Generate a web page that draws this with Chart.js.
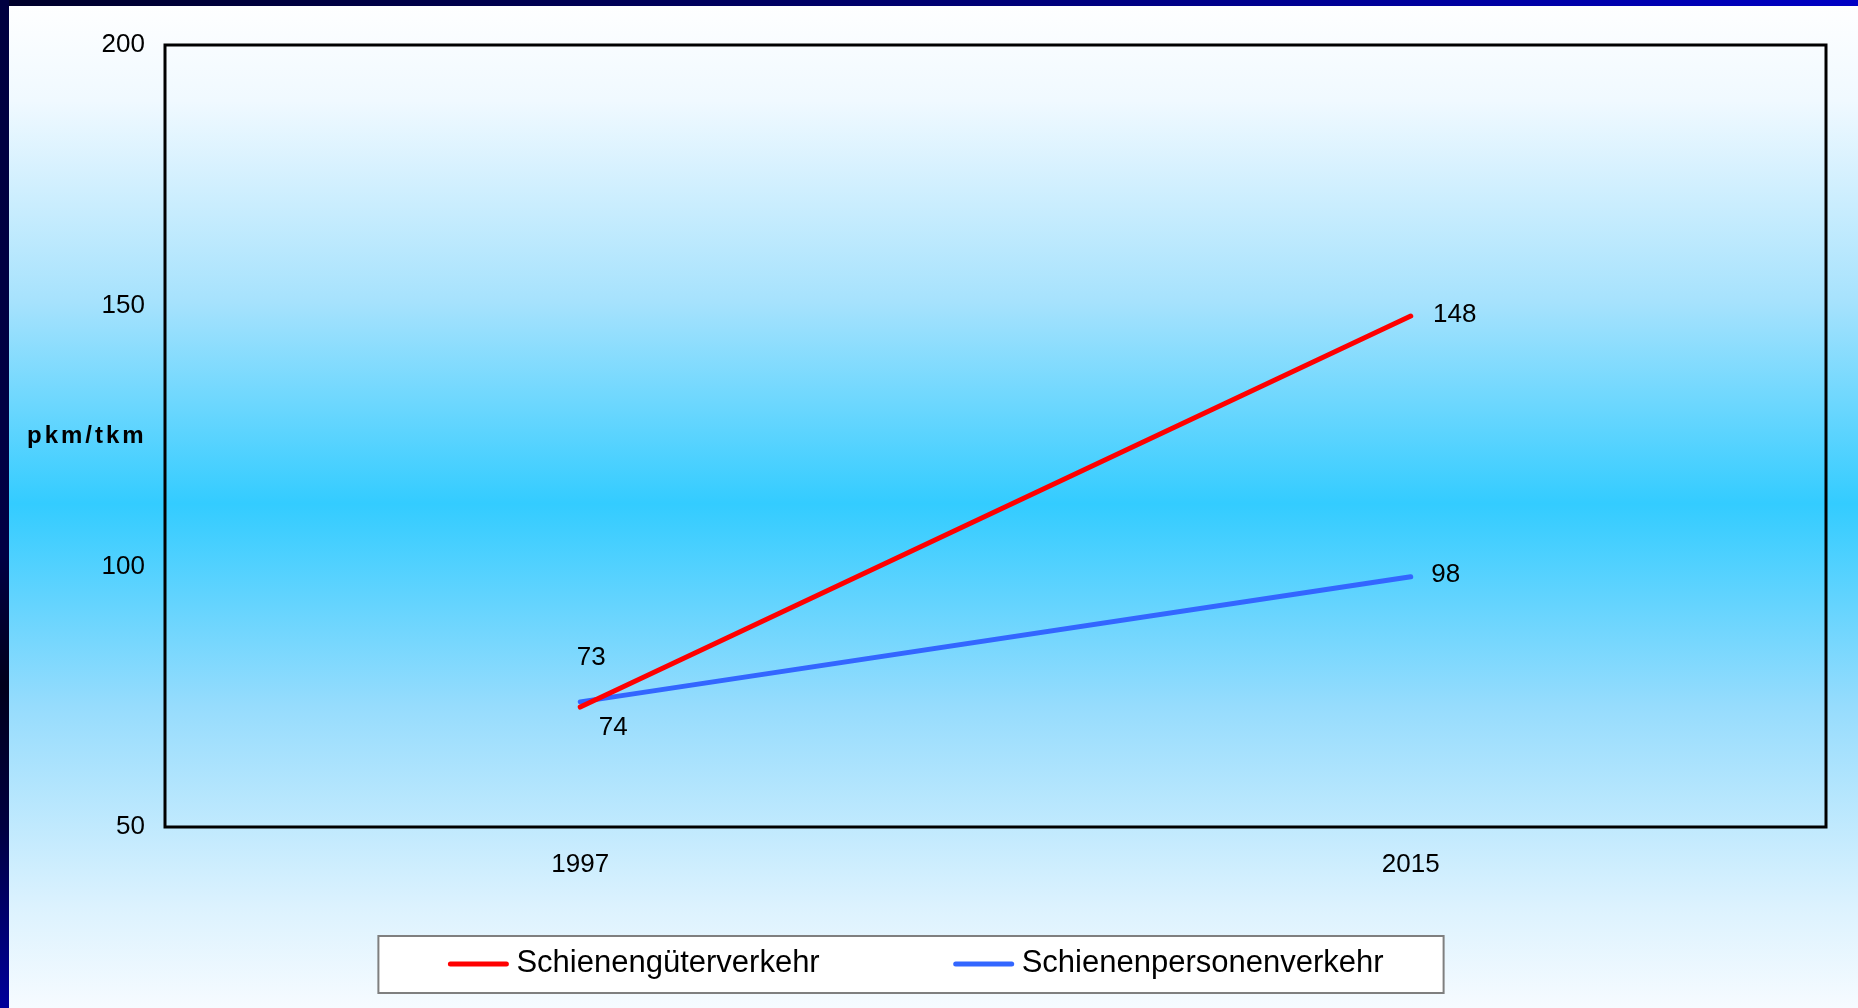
<!DOCTYPE html>
<html>
<head>
<meta charset="utf-8">
<title>Schienenverkehr 1997 - 2015</title>
<script src="https://cdn.jsdelivr.net/npm/chart.js@4/dist/chart.umd.min.js"></script>
<style>
    html, body { margin: 0; padding: 0; overflow: hidden; background: #fff; }
    #wrap { position: relative; width: 1858px; height: 1008px; }
    #chart { position: absolute; left: 0; top: 0; }
    .bar-top { position: absolute; left: 0; top: 0; width: 1858px; height: 6px;
        background: linear-gradient(to right, #00002a, #000060 40%, #0000c4); }
    .bar-left { position: absolute; left: 0; top: 0; width: 9px; height: 1008px;
        background: linear-gradient(to bottom, #000040, #000044 55%, #00001c 68%, #000040 82%, #00009a); }
</style>
</head>
<body>
<div id="wrap">
    <canvas id="chart" width="1858" height="1008"></canvas>
    <div class="bar-top"></div>
    <div class="bar-left"></div>
</div>
<script>
// ===================================
// DATA
// ===================================
const years = ['1997', '2015'];
const gueterValues = [73, 148];     // Schienengüterverkehr
const personenValues = [74, 98];    // Schienenpersonenverkehr
const yTicks = [50, 100, 150, 200];
const yTitle = 'pkm/tkm';

// label offsets (px) relative to each point, Excel-style placement
const gueterLabelOffsets = [[11, -49], [44, -1]];
const personenLabelOffsets = [[33, 26], [35, -2]];

const FONT = "'Liberation Sans', Arial, Helvetica, sans-serif";
Chart.defaults.font.family = FONT;
Chart.defaults.color = '#000';

// ===================================
// PLUGINS
// ===================================
const backgroundPlugin = {
    id: 'slideBackground',
    beforeDraw(chart) {
        const { ctx, width, height } = chart;
        const g = ctx.createLinearGradient(0, 0, 0, height);
        g.addColorStop(0, '#ffffff');
        g.addColorStop(0.1, '#f0f9ff');
        g.addColorStop(0.3, '#a6e2fd');
        g.addColorStop(0.5, '#33ccff');
        g.addColorStop(0.7, '#96dcfd');
        g.addColorStop(0.9, '#dcf2fe');
        g.addColorStop(1, '#f6fbff');
        ctx.save();
        ctx.fillStyle = g;
        ctx.fillRect(0, 0, width, height);
        ctx.restore();
    }
};

const framePlugin = {
    id: 'plotFrame',
    afterDatasetsDraw(chart) {
        const { ctx, chartArea: a, scales } = chart;
        ctx.save();
        ctx.strokeStyle = '#000';
        ctx.lineWidth = 3;
        ctx.strokeRect(a.left, a.top, a.right - a.left, a.bottom - a.top);

        // horizontal y title
        ctx.font = 'bold 24px ' + FONT;
        ctx.letterSpacing = '3px';
        ctx.textAlign = 'left';
        ctx.textBaseline = 'middle';
        ctx.fillStyle = '#000';
        ctx.fillText(yTitle, 27, scales.y.getPixelForValue(125));
        ctx.restore();
    }
};

const valueLabelPlugin = {
    id: 'valueLabels',
    afterDatasetsDraw(chart) {
        const { ctx } = chart;
        ctx.save();
        ctx.font = '26px ' + FONT;
        ctx.fillStyle = '#000';
        ctx.textAlign = 'center';
        ctx.textBaseline = 'middle';
        chart.data.datasets.forEach((ds, i) => {
            const meta = chart.getDatasetMeta(i);
            meta.data.forEach((pt, j) => {
                const off = ds.labelOffsets[j];
                ctx.fillText(String(ds.data[j]), pt.x + off[0], pt.y + off[1]);
            });
        });
        ctx.restore();
    }
};

const legendBoxPlugin = {
    id: 'legendBox',
    afterDraw(chart) {
        const { ctx } = chart;
        const centerX = 916, centerY = 964;
        const sample = 60, textGap = 8, itemGap = 134, padL = 70, padR = 60;
        ctx.save();
        ctx.font = '31px ' + FONT;
        const items = chart.data.datasets.map(ds => ({
            text: ds.label, color: ds.borderColor, w: ctx.measureText(ds.label).width
        }));
        let total = 0;
        items.forEach((it, i) => { total += sample + textGap + it.w + (i < items.length - 1 ? itemGap : 0); });
        let x = centerX - total / 2;

        ctx.fillStyle = '#fff';
        ctx.strokeStyle = '#7f7f7f';
        ctx.lineWidth = 2;
        ctx.fillRect(x - padL, 936, total + padL + padR, 57);
        ctx.strokeRect(x - padL, 936, total + padL + padR, 57);

        ctx.textAlign = 'left';
        ctx.textBaseline = 'middle';
        items.forEach(it => {
            ctx.strokeStyle = it.color;
            ctx.lineWidth = 5;
            ctx.lineCap = 'round';
            ctx.beginPath();
            ctx.moveTo(x + 2, centerY);
            ctx.lineTo(x + sample - 2, centerY);
            ctx.stroke();
            x += sample + textGap;
            ctx.fillStyle = '#000';
            ctx.fillText(it.text, x, centerY - 1);
            x += it.w + itemGap;
        });
        ctx.restore();
    }
};

// ===================================
// CHART
// ===================================
const ctx = document.getElementById('chart').getContext('2d');

new Chart(ctx, {
    type: 'line',
    data: {
        labels: years,
        datasets: [
            {
                label: 'Schienengüterverkehr',
                data: gueterValues,
                borderColor: '#ff0000',
                backgroundColor: '#ff0000',
                borderWidth: 5,
                borderCapStyle: 'round',
                pointRadius: 0,
                tension: 0,
                labelOffsets: gueterLabelOffsets
            },
            {
                label: 'Schienenpersonenverkehr',
                data: personenValues,
                borderColor: '#3366ff',
                backgroundColor: '#3366ff',
                borderWidth: 5,
                borderCapStyle: 'round',
                pointRadius: 0,
                tension: 0,
                labelOffsets: personenLabelOffsets
            }
        ]
    },
    options: {
        responsive: false,
        animation: false,
        layout: { padding: { left: 0, right: 32, top: 45, bottom: 0 } },
        plugins: {
            legend: { display: false },
            tooltip: { enabled: false }
        },
        scales: {
            x: {
                offset: true,
                grid: { display: false, drawTicks: false },
                border: { display: false },
                ticks: { padding: 22, font: { size: 26 }, color: '#000' },
                afterFit(s) { s.height = 181; }
            },
            y: {
                min: yTicks[0],
                max: yTicks[yTicks.length - 1],
                afterBuildTicks(s) { s.ticks = yTicks.map(v => ({ value: v })); },
                grid: { display: false, drawTicks: false },
                border: { display: false },
                ticks: { padding: 20, font: { size: 26 }, color: '#000' },
                afterFit(s) { s.width = 165; }
            }
        }
    },
    plugins: [backgroundPlugin, framePlugin, valueLabelPlugin, legendBoxPlugin]
});
</script>
</body>
</html>
